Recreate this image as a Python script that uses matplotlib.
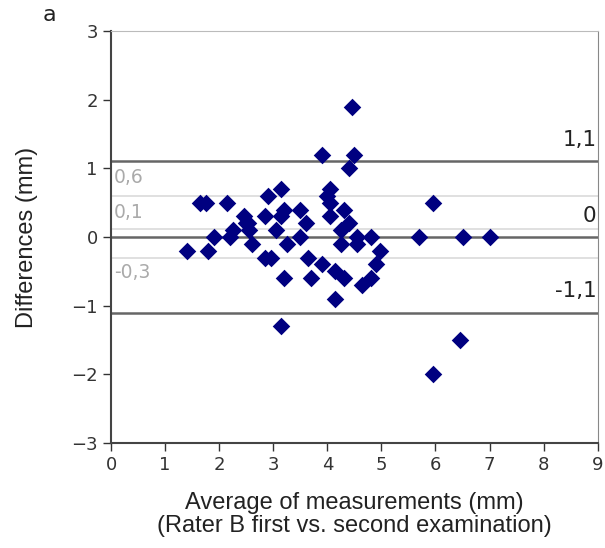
import matplotlib.pyplot as plt

# Bland-Altman data (average vs difference, mm)
avg = [1.4, 1.65, 1.75, 1.8, 1.9, 2.15, 2.2, 2.25, 2.45, 2.5, 2.54, 2.55, 2.6,
       2.85, 2.9, 2.85, 2.95, 3.05, 3.15, 3.2, 3.15, 3.5, 3.6, 3.5, 3.25, 3.65,
       3.2, 3.7, 3.9, 4.15, 4.3, 4.15, 3.15, 3.9, 4.45, 4.5, 4.4, 4.05, 4.0,
       4.05, 4.05, 4.3, 4.4, 4.25, 4.25, 4.55, 4.55, 4.8, 4.9, 4.98, 4.65, 4.8,
       5.95, 5.7, 6.5, 7.0, 5.95, 6.45]
diff = [-0.2, 0.5, 0.5, -0.2, 0.0, 0.5, 0.0, 0.1, 0.3, 0.2, 0.2, 0.1, -0.1,
        0.3, 0.6, -0.3, -0.3, 0.1, 0.7, 0.4, 0.3, 0.4, 0.2, 0.0, -0.1, -0.3,
        -0.6, -0.6, -0.4, -0.5, -0.6, -0.9, -1.3, 1.2, 1.9, 1.2, 1.0, 0.7, 0.6,
        0.5, 0.3, 0.4, 0.2, 0.1, -0.1, 0.0, -0.1, 0.0, -0.4, -0.2, -0.7, -0.6,
        0.5, 0.0, 0.0, 0.0, -2.0, -1.5]

# reference lines: limits of agreement and zero (dark), others (light)
dark_lines = [1.1, 0.0, -1.1]
dark_labels = ['1,1', '0', '-1,1']
light_lines = [0.6, 0.12, -0.3]
light_labels = ['0,6', '0,1', '-0,3']

fig = plt.figure(figsize=(6.05, 5.48), dpi=100)
ax = fig.add_axes([0.1835, 0.1916, 0.8045, 0.7518])

for v in light_lines:
    ax.axhline(v, color='#dddddd', lw=1.3, zorder=1)
for v in dark_lines:
    ax.axhline(v, color='#666666', lw=1.8, zorder=1)

ax.scatter(avg, diff, marker='D', s=80, color='#000080', zorder=3, linewidths=0)

# labels for dark lines, right side above the line
for v, t in zip(dark_lines, dark_labels):
    ax.annotate(t, (9, v), xytext=(-1, 8), textcoords='offset points',
                ha='right', va='bottom', fontsize=15.5, color='#222222')

# labels for light lines, left side
offs = [6, 5, -4]
for v, t, o in zip(light_lines, light_labels, offs):
    ax.annotate(t, (0, v), xytext=(2, o), textcoords='offset points',
                ha='left', va='bottom' if o > 0 else 'top',
                fontsize=13.5, color='#aaaaaa')

ax.set_xlim(0, 9)
ax.set_ylim(-3, 3)
ax.set_xticks(range(0, 10))
ax.set_yticks(range(-3, 4))
ax.tick_params(labelsize=13, colors='#333333', length=6, width=1)
for s in ['left', 'bottom']:
    ax.spines[s].set_color('#444444')
    ax.spines[s].set_linewidth(1.5)
ax.spines['right'].set_color('#888888')
ax.spines['top'].set_color('#bbbbbb')

ax.set_xlabel('Average of measurements (mm)\n(Rater B first vs. second examination)',
              fontsize=17, family='Liberation Sans', color='#222222', linespacing=1.1)
ax.set_ylabel('Differences (mm)', fontsize=17, family='Liberation Sans', color='#222222')
ax.xaxis.set_label_coords(0.5, -0.118)
ax.yaxis.set_label_coords(-0.15, 0.5)

fig.text(0.07, 0.972, 'a', fontsize=16, color='#222222', ha='left', va='center')

fig.savefig('out.png', dpi=100)
